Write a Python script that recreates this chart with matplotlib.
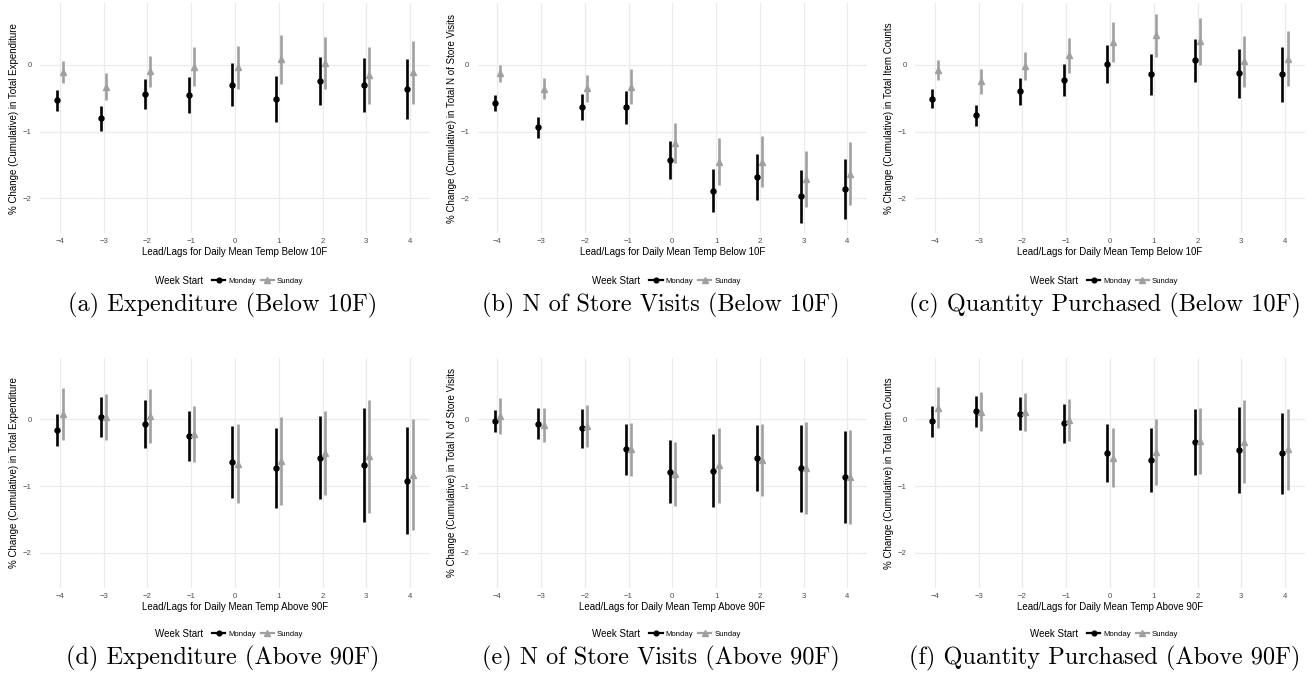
import matplotlib.pyplot as plt
from matplotlib.lines import Line2D

plt.rcParams['font.family'] = ['Liberation Sans', 'DejaVu Sans']

lags = [-4, -3, -2, -1, 0, 1, 2, 3, 4]

# point estimates and 95% CI half-widths (weeks starting Monday / Sunday)
exp_cold_mon = [-0.53, -0.80, -0.44, -0.45, -0.30, -0.51, -0.25, -0.31, -0.36]
exp_cold_mon_ci = [0.157, 0.187, 0.219, 0.269, 0.319, 0.344, 0.359, 0.404, 0.446]
exp_cold_sun = [-0.11, -0.33, -0.10, -0.03, -0.04, 0.08, 0.03, -0.16, -0.11]
exp_cold_sun_ci = [0.162, 0.200, 0.234, 0.292, 0.324, 0.367, 0.387, 0.429, 0.471]

vis_cold_mon = [-0.58, -0.94, -0.63, -0.64, -1.43, -1.89, -1.68, -1.97, -1.86]
vis_cold_mon_ci = [0.120, 0.157, 0.197, 0.249, 0.287, 0.322, 0.349, 0.399, 0.449]
vis_cold_sun = [-0.13, -0.36, -0.35, -0.33, -1.17, -1.45, -1.45, -1.71, -1.63]
vis_cold_sun_ci = [0.122, 0.160, 0.202, 0.259, 0.304, 0.354, 0.379, 0.421, 0.466]

qty_cold_mon = [-0.51, -0.76, -0.40, -0.23, 0.01, -0.14, 0.07, -0.13, -0.14]
qty_cold_mon_ci = [0.142, 0.162, 0.204, 0.244, 0.284, 0.307, 0.322, 0.372, 0.411]
qty_cold_sun = [-0.08, -0.25, -0.02, 0.14, 0.34, 0.44, 0.35, 0.05, 0.09]
qty_cold_sun_ci = [0.150, 0.182, 0.214, 0.257, 0.294, 0.327, 0.347, 0.387, 0.416]

exp_hot_mon = [-0.16, 0.04, -0.07, -0.25, -0.635, -0.725, -0.575, -0.685, -0.915]
exp_hot_mon_ci = [0.238, 0.300, 0.360, 0.380, 0.535, 0.595, 0.620, 0.850, 0.800]
exp_hot_sun = [0.075, 0.035, 0.05, -0.22, -0.66, -0.62, -0.505, -0.555, -0.825]
exp_hot_sun_ci = [0.390, 0.340, 0.400, 0.415, 0.595, 0.660, 0.625, 0.840, 0.835]

vis_hot_mon = [-0.025, -0.065, -0.135, -0.45, -0.785, -0.765, -0.58, -0.73, -0.865]
vis_hot_mon_ci = [0.170, 0.230, 0.290, 0.385, 0.470, 0.545, 0.495, 0.650, 0.690]
vis_hot_sun = [0.05, -0.085, -0.10, -0.45, -0.815, -0.685, -0.61, -0.725, -0.865]
vis_hot_sun_ci = [0.270, 0.255, 0.315, 0.400, 0.480, 0.560, 0.540, 0.685, 0.705]

qty_hot_mon = [-0.03, 0.12, 0.085, -0.06, -0.50, -0.61, -0.335, -0.46, -0.51]
qty_hot_mon_ci = [0.230, 0.230, 0.250, 0.290, 0.430, 0.480, 0.490, 0.640, 0.600]
qty_hot_sun = [0.175, 0.115, 0.11, -0.01, -0.575, -0.49, -0.325, -0.335, -0.45]
qty_hot_sun_ci = [0.310, 0.290, 0.285, 0.310, 0.440, 0.490, 0.490, 0.620, 0.610]

ylabels = ['% Change (Cumulative) in Total Expenditure',
           '% Change (Cumulative) in Total N of Store Visits',
           '% Change (Cumulative) in Total Item Counts']
xlabels = ['Lead/Lags for Daily Mean Temp Below 10F',
           'Lead/Lags for Daily Mean Temp Above 90F']
captions = ['(a) Expenditure (Below 10F)', '(b) N of Store Visits (Below 10F)',
            '(c) Quantity Purchased (Below 10F)', '(d) Expenditure (Above 90F)',
            '(e) N of Store Visits (Above 90F)', '(f) Quantity Purchased (Above 90F)']

panels = [
    (exp_cold_mon, exp_cold_mon_ci, exp_cold_sun, exp_cold_sun_ci),
    (vis_cold_mon, vis_cold_mon_ci, vis_cold_sun, vis_cold_sun_ci),
    (qty_cold_mon, qty_cold_mon_ci, qty_cold_sun, qty_cold_sun_ci),
    (exp_hot_mon, exp_hot_mon_ci, exp_hot_sun, exp_hot_sun_ci),
    (vis_hot_mon, vis_hot_mon_ci, vis_hot_sun, vis_hot_sun_ci),
    (qty_hot_mon, qty_hot_mon_ci, qty_hot_sun, qty_hot_sun_ci),
]

W, H = 1312, 683
fig = plt.figure(figsize=(W / 100, H / 100), dpi=100)

MON_COL = 'black'
SUN_COL = '#a0a0a0'
GRID_COL = '#ebebeb'
dodge = 0.06

col_left = [40.3, 477.6, 915.3]
row_top = [3.3, 358]
ax_w, ax_h = 389.4, 229.7
cap_x = [223, 661, 1105]
cap_y = [305, 658]
leg_y = [281, 634]


def px_axes(left, top, w, h):
    return fig.add_axes([left / W, 1 - (top + h) / H, w / W, h / H])


for i, (mon, mon_ci, sun, sun_ci) in enumerate(panels):
    r, c = divmod(i, 3)
    ax = px_axes(col_left[c], row_top[r], ax_w, ax_h)
    xm = [x - dodge for x in lags]
    xs = [x + dodge for x in lags]
    ax.errorbar(xm, mon, yerr=mon_ci, fmt='o', color=MON_COL, ms=3.6,
                elinewidth=1.9, capsize=0, zorder=3)
    ax.errorbar(xs, sun, yerr=sun_ci, fmt='^', color=SUN_COL, ms=4.0,
                elinewidth=1.9, capsize=0, zorder=3)

    ax.set_xlim(-4.45, 4.45)
    ax.set_ylim(-2.52, 0.92)
    ax.set_xticks(lags)
    ax.set_xticklabels([str(x).replace('-', '\u2212') for x in lags])
    ax.set_yticks([-2, -1, 0])
    ax.set_yticklabels(['\u22122', '\u22121', '0'])
    ax.grid(True, color=GRID_COL, lw=0.9)
    ax.set_axisbelow(True)
    for s in ax.spines.values():
        s.set_visible(False)
    ax.tick_params(length=0, labelsize=5.6, labelcolor='#4d4d4d')
    ax.tick_params(axis='x', pad=3.5)
    ax.tick_params(axis='y', pad=6)

    ax.set_ylabel(ylabels[c], fontsize=7, color='black')
    ax.yaxis.set_label_coords(-21 / ax_w, 0.5)
    ax.set_xlabel(xlabels[r], fontsize=7, color='black')
    ax.xaxis.set_label_coords(0.5, -14.5 / ax_h)

    # legend with the title to the left of the keys
    cx = col_left[c] + ax_w / 2
    fig.text((cx - 80) / W, 1 - leg_y[r] / H, 'Week Start', fontsize=7,
             ha='left', va='center')
    handles = [Line2D([], [], color=MON_COL, marker='o', ms=3.4, lw=1.6),
               Line2D([], [], color=SUN_COL, marker='^', ms=3.8, lw=1.6)]
    fig.legend(handles, ['Monday', 'Sunday'], loc='center left',
               bbox_to_anchor=((cx - 23) / W, 1 - leg_y[r] / H),
               ncol=2, frameon=False, fontsize=5.6, handlelength=1.7,
               handletextpad=0.4, columnspacing=0.6, borderaxespad=0,
               borderpad=0)

    fig.text(cap_x[c] / W, 1 - cap_y[r] / H, captions[i], family='cmr10',
             fontsize=17.5, ha='center', va='center')

fig.savefig('out.png', dpi=100)
